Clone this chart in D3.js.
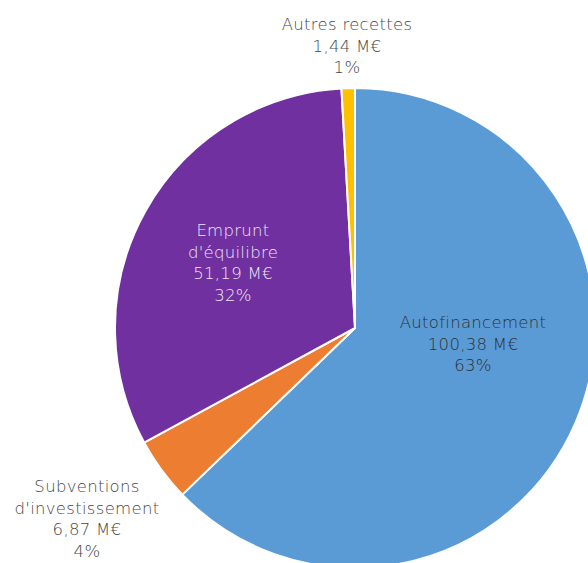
<!DOCTYPE html>
<html>
<head>
<meta charset="utf-8">
<style>
  body { margin: 0; background: #fff; }
  text { font-family: "DejaVu Sans", sans-serif; font-weight: 200; font-size: 16.5px; letter-spacing: 0.3px; }
</style>
</head>
<body>
<script src="https://cdn.jsdelivr.net/npm/d3@7"></script>
<script>
  // recettes d'investissement
  var categories = ["Autofinancement", "Subventions d'investissement", "Emprunt d'équilibre", "Autres recettes"];
  var values = [100.38, 6.87, 51.19, 1.44];
  var valueLabels = ["100,38 M€", "6,87 M€", "51,19 M€", "1,44 M€"];
  var percentLabels = ["63%", "4%", "32%", "1%"];
  var colors = ["#5B9BD5", "#ED7D31", "#7030A0", "#FFC000"];

  var width = 588, height = 563;
  var cx = 355, cy = 328, radius = 240;

  var svg = d3.select("body").append("svg")
    .attr("width", width)
    .attr("height", height);

  var data = categories.map(function (c, i) {
    return { name: c, value: values[i], label: valueLabels[i], pct: percentLabels[i], color: colors[i] };
  });

  var pie = d3.pie().sort(null).value(function (d) { return d.value; });
  var arc = d3.arc().innerRadius(0).outerRadius(radius);

  var g = svg.append("g").attr("transform", "translate(" + cx + "," + cy + ")");

  g.selectAll("path")
    .data(pie(data))
    .enter()
    .append("path")
    .attr("d", arc)
    .attr("fill", function (d) { return d.data.color; })
    .attr("stroke", "#fff")
    .attr("stroke-width", 2)
    .attr("stroke-linejoin", "round");

  // label lines and where they sit (first line baseline)
  var labelLines = [
    ["Autofinancement", valueLabels[0], percentLabels[0]],
    ["Subventions", "d'investissement", valueLabels[1], percentLabels[1]],
    ["Emprunt", "d'équilibre", valueLabels[2], percentLabels[2]],
    ["Autres recettes", valueLabels[3], percentLabels[3]]
  ];
  var labelPos = [[473, 328], [87, 492], [233, 236], [347, 30]];
  var labelColor = ["#303030", "#474747", "#EEE6F5", "#474747"];

  labelLines.forEach(function (lines, i) {
    var t = svg.append("text")
      .attr("text-anchor", "middle")
      .attr("fill", labelColor[i]);
    lines.forEach(function (line, j) {
      t.append("tspan")
        .attr("x", labelPos[i][0])
        .attr("y", labelPos[i][1] + j * 21.5)
        .text(line);
    });
  });
</script>
</body>
</html>
